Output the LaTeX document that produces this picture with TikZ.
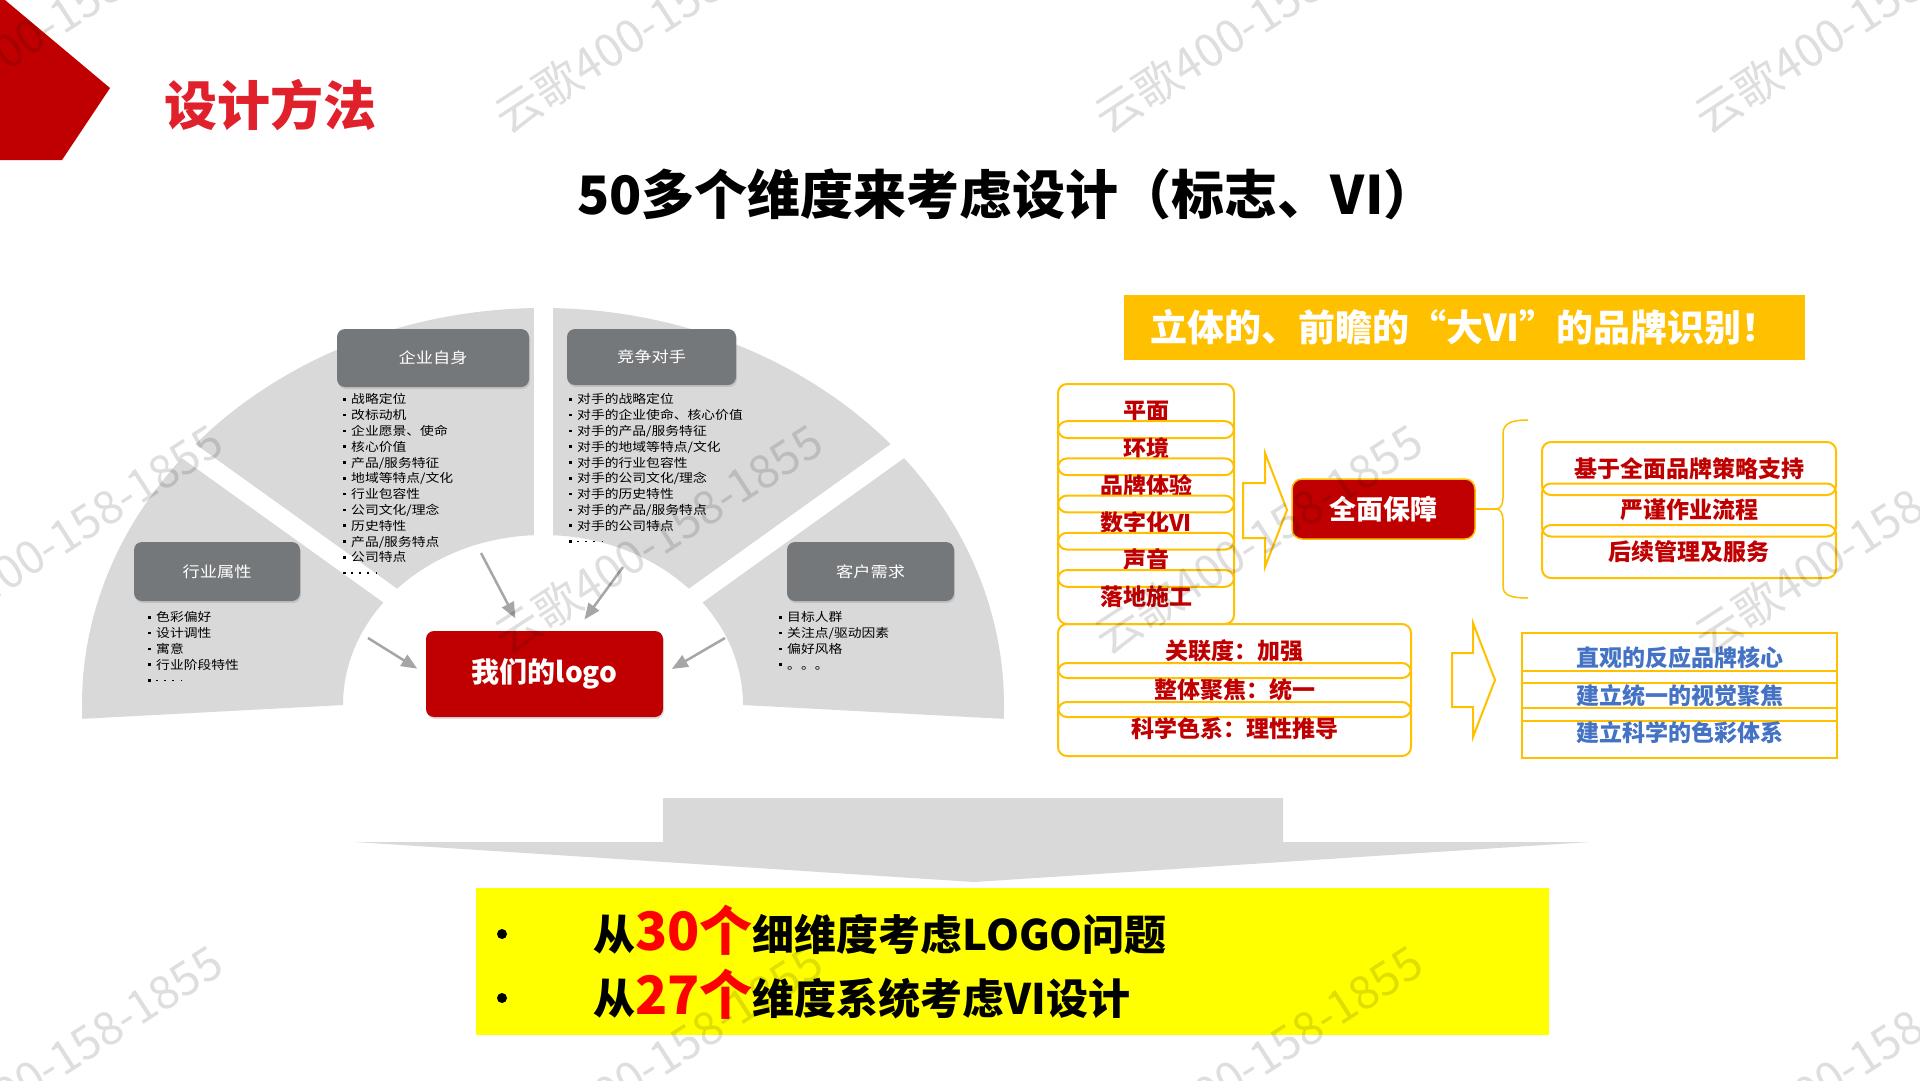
\documentclass[tikz,border=0pt]{standalone}
\usepackage{fontspec}
\setmainfont{Noto Sans CJK SC}
\newfontfamily\fanfont{Noto Sans CJK SC}[FakeStretch=1.15]
\usetikzlibrary{arrows.meta,shadows,calc}
\definecolor{darkred}{HTML}{C00000}
\definecolor{gold}{HTML}{FFC000}
\definecolor{fangray}{HTML}{D9D9D9}
\definecolor{hdrgray}{HTML}{75787B}
\definecolor{titlered}{HTML}{E0202A}
\definecolor{vblue}{HTML}{4472C4}
\definecolor{arrgray}{HTML}{A6A6A6}
\definecolor{pureyellow}{HTML}{FFFF00}
\newcommand\fsz[1]{\fontsize{#1}{#1}\selectfont}
\newcommand\bl{\makebox[8pt][l]{\rule{0pt}{11pt}\rule[3.2pt]{2.6pt}{2.6pt}}}
\newcommand\sdot{\rule[3.6pt]{1.6pt}{1.6pt}}
\newcommand\dotline{\bl\sdot\hspace{6.5pt}\sdot\hspace{6.5pt}\sdot\hspace{6.5pt}\sdot}
\begin{document}
\begin{tikzpicture}[x=1pt,y=-1pt,
  hdr/.style={fill=hdrgray, rounded corners=8, text=white, font=\fanfont\fsz{15}, inner sep=0,
    drop shadow={opacity=0.25,shadow xshift=1pt,shadow yshift=-2pt}},
  lst/.style={anchor=north west, align=left, inner sep=0, font=\fanfont\fontsize{12}{15.8}\selectfont},
  arr/.style={draw=arrgray, line width=2.5, -{Triangle[length=16,width=13]}},
  rowR/.style={draw=gold, line width=2, rounded corners=9, inner sep=0, text=darkred, font=\bfseries\fsz{23}},
  rowB/.style={draw=gold, line width=2, inner sep=0, text=vblue, font=\bfseries\fsz{23}},
  wm/.style={rotate=33, text=black, opacity=0.13, font=\fsz{46}, inner sep=0}]
\useasboundingbox (0,0) rectangle (1920,1080);
\fill[white] (0,0) rectangle (1920,1080);

% corner mark and page title
\fill[darkred] (0,0) -- (5,0) -- (110,88) -- (62,160) -- (0,160) -- cycle;
\node[text=titlered, font=\bfseries\fsz{53}, inner sep=0] (ptitle) at (270,105) {设计方法};
\node[text=black, font=\bfseries\fsz{53}, inner sep=0] (title) at (1007,194) {50多个维度来考虑设计（标志、VI）};

% fan
\coordinate (C) at (543,705);
\fill[fangray] (C) ++(178:461 and 397) arc[start angle=178, end angle=362, x radius=461, y radius=397]
  -- ($(C)+(360:200 and 170)$) arc[start angle=360, end angle=180, x radius=200, y radius=170] -- cycle;
\foreach \a in {220,270,320}
  \draw[white, line width=19] (C) -- ($(C)+(\a:520 and 444)$);

\node[hdr, minimum width=192, minimum height=58] (h1) at (433,358) {企业自身};
\node[hdr, minimum width=169, minimum height=56] (h2) at (651.5,357) {竞争对手};
\node[hdr, minimum width=166, minimum height=59] (h3) at (217,571.5) {行业属性};
\node[hdr, minimum width=167, minimum height=59] (h4) at (870.5,571.5) {客户需求};

\node[lst] (l1) at (343,392.6) {\bl 战略定位\\\bl 改标动机\\\bl 企业愿景、使命\\\bl 核心价值\\\bl 产品/服务特征\\\bl 地域等特点/文化\\\bl 行业包容性\\\bl 公司文化/理念\\\bl 历史特性\\\bl 产品/服务特点\\\bl 公司特点\\\dotline};
\node[lst] (l2) at (569,392.6) {\bl 对手的战略定位\\\bl 对手的企业使命、核心价值\\\bl 对手的产品/服务特征\\\bl 对手的地域等特点/文化\\\bl 对手的行业包容性\\\bl 对手的公司文化/理念\\\bl 对手的历史特性\\\bl 对手的产品/服务特点\\\bl 对手的公司特点\\\dotline};
\node[lst] (l3) at (148,610.6) {\bl 色彩偏好\\\bl 设计调性\\\bl 寓意\\\bl 行业阶段特性\\\dotline};
\node[lst] (l4) at (779,610.6) {\bl 目标人群\\\bl 关注点/驱动因素\\\bl 偏好风格\\\bl 。。。};

\node[fill=darkred, rounded corners=8, minimum width=237, minimum height=86, inner sep=0, text=white,
  font=\bfseries\fsz{28}, drop shadow={opacity=0.25,shadow xshift=1pt,shadow yshift=-2pt}] (logo) at (544.5,674) {我们的logo};

\coordinate (a1) at (481,553);
\coordinate (a2) at (623,567);
\coordinate (a3) at (368,638);
\coordinate (a4) at (725,638);
\draw[arr, shorten >=14] (a1) -- (logo);
\draw[arr, shorten >=14] (a2) -- (logo);
\draw[arr, shorten >=10] (a3) -- (logo.west);
\draw[arr, shorten >=10] (a4) -- (logo.east);

% right part
\node[fill=gold, minimum width=681, minimum height=65, inner sep=0, text=white, font=\bfseries\fsz{37}] (banner) at (1464.5,327.5) {立体的、前瞻的“大VI”的品牌识别！};

\foreach \t [count=\i from 0] in {平面,环境,品牌体验,数字化VI,声音,落地施工}
  \node[rowR, minimum width=176, minimum height=54] (p\i) at (1146,{411+37.2*\i}) {\t};

\draw[gold, line width=2] (1243,483) -- (1265,483) -- (1265,453) -- (1287,510) -- (1265,567) -- (1265,538) -- (1243,538) -- cycle;

\node[fill=darkred, draw=gold, line width=1.5, rounded corners=10, minimum width=183, minimum height=60, inner sep=0,
  text=white, font=\bfseries\fsz{27}] (qm) at (1383.5,509) {全面保障};

\coordinate (bt) at (1496,509);
\draw[gold, line width=1.5] (qm.east) -- (bt);
\draw[gold, line width=1.5] (1528,420) .. controls (1510,420) and (1503,424) .. (1503,434) -- (1503,498)
  .. controls (1503,505) and (1500,509) .. (bt) .. controls (1500,509) and (1503,513) .. (1503,520)
  -- (1503,586) .. controls (1503,595) and (1510,598) .. (1528,598);

\foreach \t [count=\i from 0] in {基于全面品牌策略支持,严谨作业流程,后续管理及服务}
  \node[rowR, minimum width=294, minimum height=53] (q\i) at (1689,{468.5+41.5*\i}) {\t};

\foreach \t [count=\i from 0] in {关联度：加强,整体聚焦：统一,科学色系：理性推导}
  \node[rowR, minimum width=353, minimum height=54] (s\i) at (1234.5,{651+39*\i}) {\t};

\draw[gold, line width=2] (1452,653) -- (1473,653) -- (1473,623) -- (1495,680) -- (1473,737) -- (1473,707) -- (1452,707) -- cycle;

\foreach \t [count=\i from 0] in {直观的反应品牌核心,建立统一的视觉聚焦,建立科学的色彩体系}
  \node[rowB, minimum width=315, minimum height=50] (v\i) at (1679.5,{658+37.5*\i}) {\t};

% bottom arrow and summary
\fill[fangray] (663,798) -- (1283,798) -- (1283,842) -- (1590,842) -- (974,882) -- (355,842) -- (663,842) -- cycle;
\node[fill=pureyellow, minimum width=1073, minimum height=147, inner sep=0] (ybox) at (1012.5,961.5) {};
\node[circle, fill=black, inner sep=0, minimum size=10] (b1) at (502,934) {};
\node[circle, fill=black, inner sep=0, minimum size=10] (b2) at (502,998) {};
\node[anchor=base west, inner sep=0, font=\bfseries\fsz{42}] (t1) at (593,950) {从{\color{red}\fsz{53}30个}细维度考虑LOGO问题};
\node[anchor=base west, inner sep=0, font=\bfseries\fsz{42}] (t2) at (593,1014) {从{\color{red}\fsz{53}27个}维度系统考虑VI设计};

% watermarks
\foreach \j in {0,1,2}
  \foreach \k in {0,1,2,3}
    \node[wm] (wm\j\k) at ({58+600*\k},{18+521*\j}) {云歌400-158-1855};
\end{tikzpicture}
\end{document}
